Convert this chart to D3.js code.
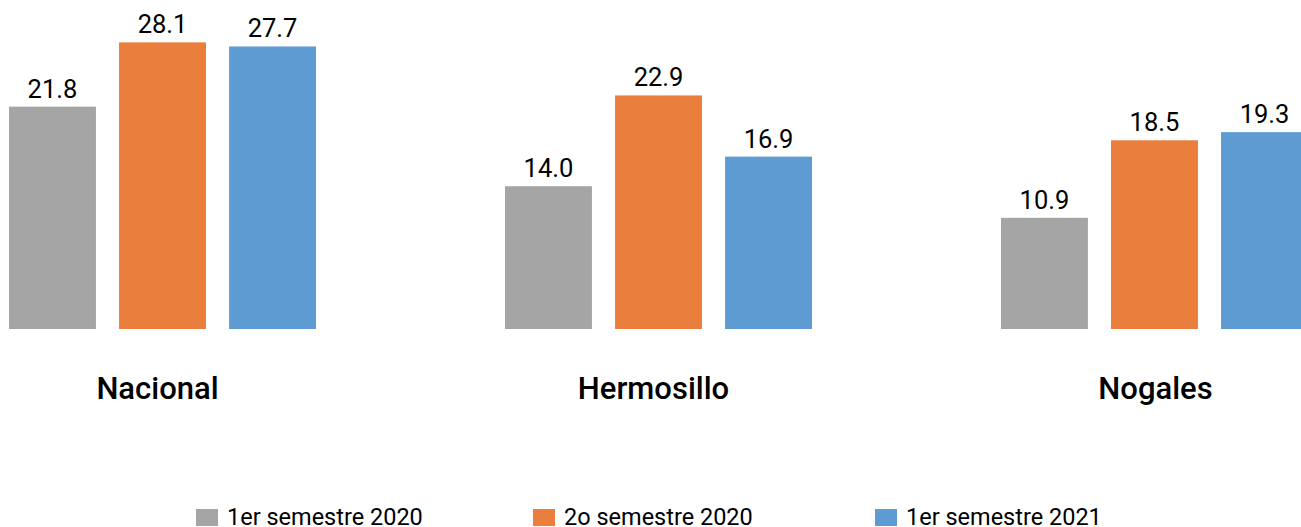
<!DOCTYPE html>
<html>
<head>
<meta charset="utf-8">
<script src="https://cdn.jsdelivr.net/npm/d3@7"></script>
<style>
	html, body { margin: 0; padding: 0; background: #fff; }
	svg { display: block; font-family: Roboto, "Noto Sans", sans-serif; }
</style>
</head>
<body>
<svg width="1301" height="527"></svg>
<script>
// regions shown on the x axis
const categories = ['Nacional', 'Hermosillo', 'Nogales'];
// one series per semester
const seriesNames = ['1er semestre 2020', '2o semestre 2020', '1er semestre 2021'];
const sem1_2020 = [21.8, 14.0, 10.9];
const sem2_2020 = [28.1, 22.9, 18.5];
const sem1_2021 = [27.7, 16.9, 19.3];
const colors = ['#A5A5A5', '#EA7E3C', '#5F9BD3'];

const series = [sem1_2020, sem2_2020, sem1_2021];

var svg = d3.select('svg');

var x0 = d3.scaleBand()
	.domain(categories)
	.range([9, 1308])
	.paddingInner(0.381)
	.paddingOuter(0);

var x1 = d3.scaleBand()
	.domain(d3.range(series.length))
	.range([0, x0.bandwidth()])
	.paddingInner(0.21)
	.paddingOuter(0);

var y = d3.scaleLinear()
	.domain([0, 30])
	.range([329, 23]);

var groups = svg.append('g')
	.selectAll('g')
	.data(categories)
	.enter().append('g')
	.attr('transform', function(d) { return 'translate(' + x0(d) + ',0)'; });

groups.selectAll('rect')
	.data(function(d, i) { return series.map(function(s, k) { return { k: k, v: s[i] }; }); })
	.enter().append('rect')
	.attr('x', function(d) { return x1(d.k); })
	.attr('y', function(d) { return y(d.v); })
	.attr('width', x1.bandwidth())
	.attr('height', function(d) { return y(0) - y(d.v); })
	.attr('fill', function(d) { return colors[d.k]; });

groups.selectAll('text.val')
	.data(function(d, i) { return series.map(function(s, k) { return { k: k, v: s[i] }; }); })
	.enter().append('text')
	.attr('class', 'val')
	.attr('x', function(d) { return x1(d.k) + x1.bandwidth() / 2; })
	.attr('y', function(d) { return y(d.v) - 9; })
	.attr('text-anchor', 'middle')
	.attr('font-size', 25.5)
	.attr('fill', '#000')
	.text(function(d) { return d.v.toFixed(1); });

// category labels
svg.append('g')
	.selectAll('text')
	.data(categories)
	.enter().append('text')
	.attr('x', function(d, i) { return x0(d) + x0.bandwidth() / 2 - 5 + (i == 2 ? 6 : 0); })
	.attr('y', 399)
	.attr('text-anchor', 'middle')
	.attr('font-size', 31)
	.attr('font-weight', 500)
	.attr('fill', '#000')
	.text(function(d) { return d; });

// legend
var legendX = [196, 533, 875];
var legend = svg.append('g')
	.selectAll('g')
	.data(seriesNames)
	.enter().append('g')
	.attr('transform', function(d, i) { return 'translate(' + legendX[i] + ',0)'; });

legend.append('rect')
	.attr('x', 0)
	.attr('y', 509)
	.attr('width', 22)
	.attr('height', 17)
	.attr('fill', function(d, i) { return colors[i]; });

legend.append('text')
	.attr('x', 31)
	.attr('y', 525)
	.attr('font-size', 23.5)
	.attr('fill', '#000')
	.text(function(d) { return d; });
</script>
</body>
</html>
